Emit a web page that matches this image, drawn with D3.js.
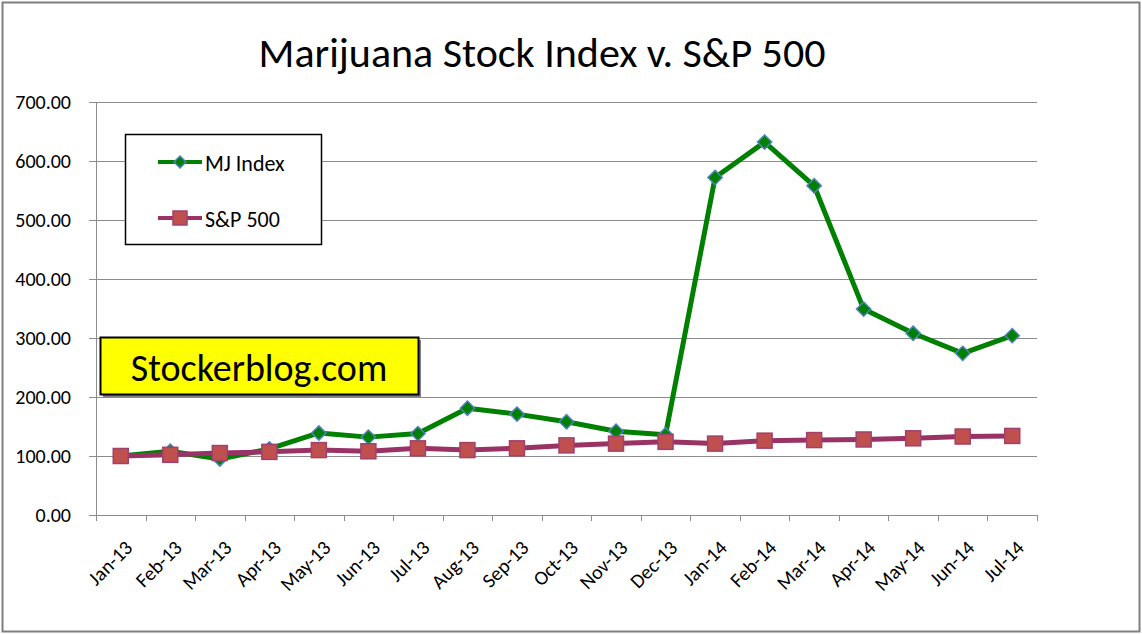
<!DOCTYPE html>
<html>
<head>
<meta charset="utf-8">
<script src="https://cdnjs.cloudflare.com/ajax/libs/d3/7.8.5/d3.min.js"></script>
<style>
  body { margin: 0; background: #fff; }
  svg text { font-family: Carlito, Lato, "Open Sans", sans-serif; fill: #000; }
</style>
</head>
<body>
<script>
var months = ['Jan-13', 'Feb-13', 'Mar-13', 'Apr-13', 'May-13', 'Jun-13', 'Jul-13', 'Aug-13', 'Sep-13', 'Oct-13',
  'Nov-13', 'Dec-13', 'Jan-14', 'Feb-14', 'Mar-14', 'Apr-14', 'May-14', 'Jun-14', 'Jul-14']
var mjIndex = [100, 108, 95, 112, 139, 132, 138, 181, 171, 158, 142, 136, 572, 632, 558, 349, 308, 274, 304]
var sp500 = [100, 102, 105, 107, 110, 108, 113, 110, 113, 118, 121, 124, 121, 126, 127, 128, 130, 133, 134]
var yTicks = [0, 100, 200, 300, 400, 500, 600, 700]

const width = 1142
const height = 634
const plotLeft = 96
const plotRight = 1037
const plotTop = 102
const plotBottom = 515

var svg = d3.select('body')
  .append('svg')
  .attr('width', width)
  .attr('height', height)

// outer chart frame
svg.append('rect')
  .attr('x', 2.5)
  .attr('y', 2.5)
  .attr('width', width - 5)
  .attr('height', height - 5)
  .attr('fill', '#fff')
  .attr('stroke', '#7f7f7f')
  .attr('stroke-width', 2)

svg.append('text')
  .attr('x', 542)
  .attr('y', 67)
  .attr('text-anchor', 'middle')
  .attr('font-size', 42)
  .text('Marijuana Stock Index v. S&P 500')

var x = d3.scaleBand()
  .domain(months)
  .range([plotLeft, plotRight])

var y = d3.scaleLinear()
  .domain([0, 700])
  .range([plotBottom, plotTop])

// gridlines
svg.append('g')
  .selectAll('line')
  .data(yTicks)
  .enter()
  .append('line')
  .attr('x1', plotLeft - 7)
  .attr('x2', plotRight)
  .attr('y1', function(d) { return Math.round(y(d)) + 0.5 })
  .attr('y2', function(d) { return Math.round(y(d)) + 0.5 })
  .attr('stroke', '#8c8c8c')
  .attr('stroke-width', 1)

// y axis line
svg.append('line')
  .attr('x1', plotLeft + 0.5)
  .attr('x2', plotLeft + 0.5)
  .attr('y1', plotTop)
  .attr('y2', plotBottom)
  .attr('stroke', '#8c8c8c')

svg.append('g')
  .selectAll('text')
  .data(yTicks)
  .enter()
  .append('text')
  .attr('x', 71)
  .attr('y', function(d) { return y(d) + 7 })
  .attr('text-anchor', 'end')
  .attr('font-size', 20)
  .text(function(d) { return d3.format('.2f')(d) })

// x axis tick marks at category boundaries
var boundaries = months.map(function(m) { return x(m) }).concat([plotRight])
svg.append('g')
  .selectAll('line')
  .data(boundaries)
  .enter()
  .append('line')
  .attr('x1', function(d) { return Math.round(d) + 0.5 })
  .attr('x2', function(d) { return Math.round(d) + 0.5 })
  .attr('y1', plotBottom)
  .attr('y2', plotBottom + 6)
  .attr('stroke', '#8c8c8c')

svg.append('g')
  .selectAll('text')
  .data(months)
  .enter()
  .append('text')
  .attr('text-anchor', 'end')
  .attr('font-size', 20)
  .attr('transform', function(d) {
    var lx = x(d) + x.bandwidth() / 2 + 13
    return 'translate(' + lx + ',' + 549 + ') rotate(-45)'
  })
  .text(function(d) { return d })

function cx(d, i) { return x(months[i]) + x.bandwidth() / 2 }

var line = d3.line()
  .x(cx)
  .y(function(d) { return y(d) })

svg.append('path')
  .datum(mjIndex)
  .attr('d', line)
  .attr('fill', 'none')
  .attr('stroke', '#008000')
  .attr('stroke-width', 5)
  .attr('stroke-linejoin', 'round')

svg.append('path')
  .datum(sp500)
  .attr('d', line)
  .attr('fill', 'none')
  .attr('stroke', '#993366')
  .attr('stroke-width', 5)
  .attr('stroke-linejoin', 'round')

var diamond = d3.symbol().type(d3.symbolDiamond2).size(130)

svg.append('g')
  .selectAll('path')
  .data(mjIndex)
  .enter()
  .append('path')
  .attr('d', diamond)
  .attr('transform', function(d, i) { return 'translate(' + cx(d, i) + ',' + y(d) + ')' })
  .attr('fill', '#008000')
  .attr('stroke', '#4f81bd')
  .attr('stroke-width', 1.5)

svg.append('g')
  .selectAll('rect')
  .data(sp500)
  .enter()
  .append('rect')
  .attr('x', function(d, i) { return cx(d, i) - 7.5 })
  .attr('y', function(d) { return y(d) - 7.5 })
  .attr('width', 15)
  .attr('height', 15)
  .attr('fill', '#c0504d')
  .attr('stroke', '#a0416e')
  .attr('stroke-width', 1.5)

// legend
var legend = svg.append('g')
legend.append('rect')
  .attr('x', 125.5)
  .attr('y', 134.5)
  .attr('width', 196)
  .attr('height', 110)
  .attr('fill', '#fff')
  .attr('stroke', '#000')
  .attr('stroke-width', 1.5)

legend.append('line')
  .attr('x1', 158).attr('x2', 202)
  .attr('y1', 162).attr('y2', 162)
  .attr('stroke', '#008000').attr('stroke-width', 4)
legend.append('path')
  .attr('d', d3.symbol().type(d3.symbolDiamond2).size(90))
  .attr('transform', 'translate(180,162)')
  .attr('fill', '#008000')
  .attr('stroke', '#4f81bd')
  .attr('stroke-width', 1.5)
legend.append('text')
  .attr('x', 205)
  .attr('y', 171)
  .attr('font-size', 22)
  .text('MJ Index')

legend.append('line')
  .attr('x1', 158).attr('x2', 202)
  .attr('y1', 218).attr('y2', 218)
  .attr('stroke', '#993366').attr('stroke-width', 4)
legend.append('rect')
  .attr('x', 173).attr('y', 211)
  .attr('width', 14).attr('height', 14)
  .attr('fill', '#c0504d')
  .attr('stroke', '#a0416e')
  .attr('stroke-width', 1.5)
legend.append('text')
  .attr('x', 205)
  .attr('y', 227)
  .attr('font-size', 22)
  .text('S&P 500')

// watermark box
svg.append('rect')
  .attr('x', 103)
  .attr('y', 340)
  .attr('width', 318)
  .attr('height', 57)
  .attr('fill', '#7f7f7f')
svg.append('rect')
  .attr('x', 100.5)
  .attr('y', 337.5)
  .attr('width', 318)
  .attr('height', 57)
  .attr('fill', '#ffff00')
  .attr('stroke', '#000')
  .attr('stroke-width', 2)
svg.append('text')
  .attr('x', 259)
  .attr('y', 381)
  .attr('text-anchor', 'middle')
  .attr('font-size', 38)
  .text('Stockerblog.com')
</script>
</body>
</html>
